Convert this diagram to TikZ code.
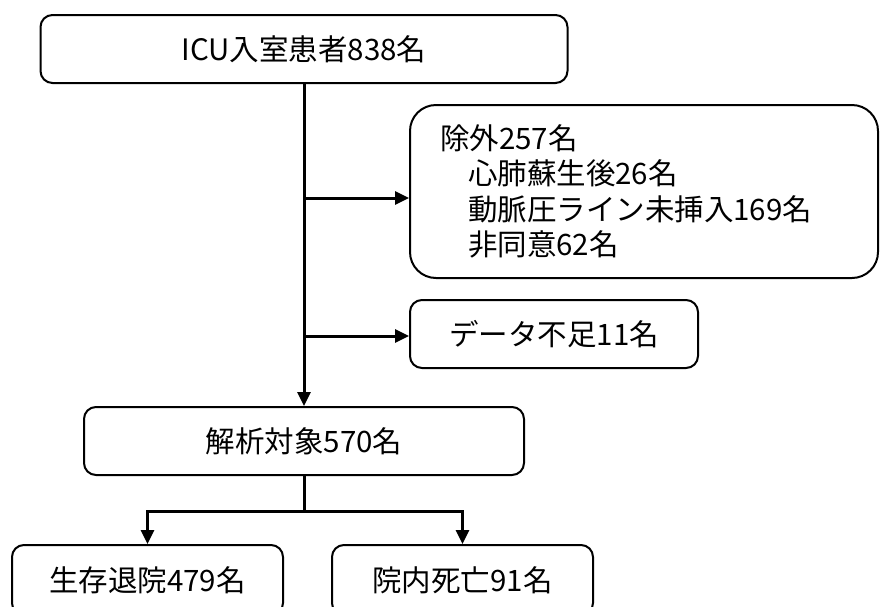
\documentclass[tikz,border=0pt]{standalone}
\usepackage{fontspec}
\setmainfont{Noto Sans CJK JP}
\usetikzlibrary{arrows.meta}
\tikzset{
  box/.style={draw=black, line width=2pt, rounded corners=12pt, inner sep=0pt,
    minimum height=68pt, font=\fontsize{29.5}{35.5}\selectfont, anchor=center},
  conn/.style={draw=black, line width=3pt},
  arr/.style={conn, -{Triangle[length=14pt,width=13pt]}}
}
\begin{document}
\begin{tikzpicture}[x=1pt,y=-1pt]
\clip (0,0) rectangle (881,606);
\fill[white] (0,0) rectangle (881,606);
\node[box, minimum width=527pt] (top) at (304,49) {ICU入室患者838名};
\node[box, rounded corners=26pt, minimum height=173pt, text width=408pt,
  inner xsep=30pt, align=left] (excl) at (644,191.5)
  {除外257名\\\hspace*{0.95em}心肺蘇生後26名\\\hspace*{0.95em}動脈圧ライン未挿入169名\\\hspace*{0.95em}非同意62名};
\node[box, minimum width=288pt] (data) at (554,334) {データ不足11名};
\node[box, minimum width=440pt] (ana) at (304,441) {解析対象570名};
\node[box, minimum width=271pt, minimum height=70pt] (surv) at (147.5,580) {生存退院479名};
\node[box, minimum width=261pt, minimum height=70pt] (dead) at (462.5,580) {院内死亡91名};
\coordinate (b1) at (304,198);
\coordinate (b2) at (304,336);
\coordinate (split) at (304,511);
\draw[arr] (top.south) -- (ana.north);
\draw[arr] (b1) -- (b1 -| excl.west);
\draw[arr] (b2) -- (b2 -| data.west);
\draw[conn] (ana.south) -- (split);
\draw[arr] (split) -| (surv.north);
\draw[arr] (split) -| (dead.north);
\end{tikzpicture}
\end{document}
